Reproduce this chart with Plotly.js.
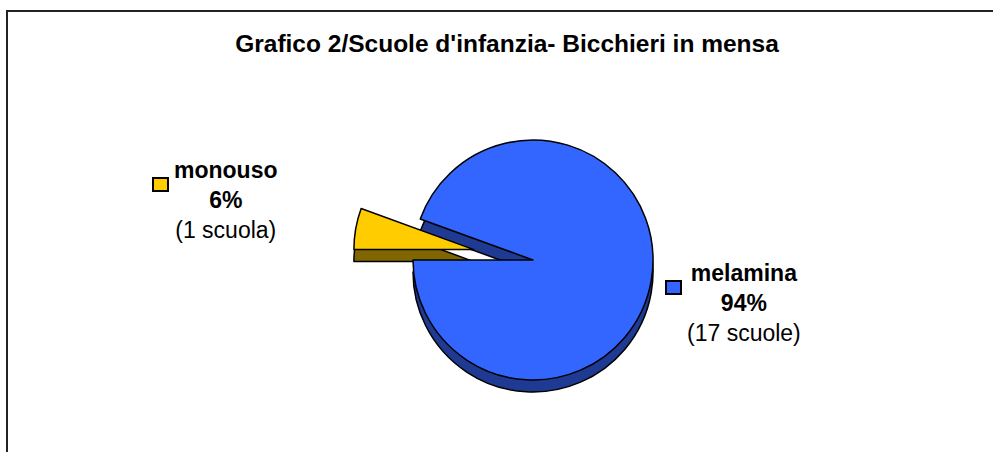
<!DOCTYPE html>
<html><head><meta charset="utf-8">
<script src="https://cdn.plot.ly/plotly-3.0.1.min.js"></script>
<style>html,body{margin:0;padding:0;background:#fff}#chart{width:993px;height:452px}</style>
</head><body><div id="chart"></div>
<script>
// ---- data ----
const chartTitle = "Grafico 2/Scuole d'infanzia- Bicchieri in mensa";
const categories = ["monouso", "melamina"];
const schools = [1, 17];
const topColors = ["#FFCC00", "#3366FF"];
const sideColors = ["#806600", "#1F3A93"];
const pulls = [0.5, 0];

const total = schools.reduce((a, b) => a + b, 0);
const percents = schools.map(v => Math.round(v / total * 100) + "%");
const counts = schools.map(v => "(" + v + " " + (v === 1 ? "scuola" : "scuole") + ")");

// ---- layout helpers (pixels -> paper) ----
const W = 993, H = 452;
const px = x => x / W;
const py = y => Math.max(0, Math.min(1, 1 - y / H));
const cx = 533, cy = 260, r = 120, depth = 12;
const half = r * (1 + Math.max(...pulls));
const dom = s => ({x: [px(cx - half), px(cx + half)], y: [py(cy + s + half), py(cy + s - half)]});

const basePie = {
  type: 'pie', labels: categories, values: schools, sort: false,
  direction: 'clockwise', rotation: 270, pull: pulls,
  textinfo: 'none', hoverinfo: 'label+value+percent', showlegend: false
};
const sidePie = Object.assign({}, basePie, {domain: dom(depth),
  marker: {colors: sideColors, line: {color: '#000', width: 1.5}}});
const topPie = Object.assign({}, basePie, {domain: dom(0),
  marker: {colors: topColors, line: {color: '#000', width: 1.5}}});

const labelPos = [{x: 226, y: 200, sx: 153, sy: 178}, {x: 743.5, y: 303, sx: 666, sy: 281}];
const labelFont = {family: 'Liberation Sans, Arial, sans-serif', size: 23, color: '#000'};

const annotations = categories.map((c, i) => ({
  xref: 'paper', yref: 'paper', x: px(labelPos[i].x), y: py(labelPos[i].y),
  xanchor: 'center', yanchor: 'middle', showarrow: false, align: 'center',
  text: '<b>' + c + '</b><br><b>' + percents[i] + '</b><br>' + counts[i], font: labelFont
}));

const shapes = [{type: 'rect', xref: 'paper', yref: 'paper', x0: 7 / W, x1: 1.05, y0: -0.05, y1: 1 - 11 / H,
  line: {color: '#222', width: 2}, fillcolor: 'rgba(0,0,0,0)', layer: 'below'}];
categories.forEach((c, i) => {
  const p = labelPos[i];
  shapes.push({type: 'rect', xref: 'paper', yref: 'paper', x0: px(p.sx), x1: px(p.sx + 15), y0: py(p.sy + 13), y1: py(p.sy),
    line: {color: '#000', width: 2}, fillcolor: topColors[i]});
});

const layout = {
  width: W, height: H, margin: {l: 0, r: 0, t: 0, b: 0},
  paper_bgcolor: '#fff', plot_bgcolor: '#fff',
  title: {text: '<b>' + chartTitle + '</b>', x: px(507), xanchor: 'center', y: py(43), yanchor: 'middle',
    yref: 'container', font: {family: 'Liberation Sans, Arial, sans-serif', size: 24.5, color: '#000'}},
  annotations: annotations, shapes: shapes
};
Plotly.newPlot('chart', [sidePie, topPie], layout, {displayModeBar: false, staticPlot: true});
</script></body></html>
